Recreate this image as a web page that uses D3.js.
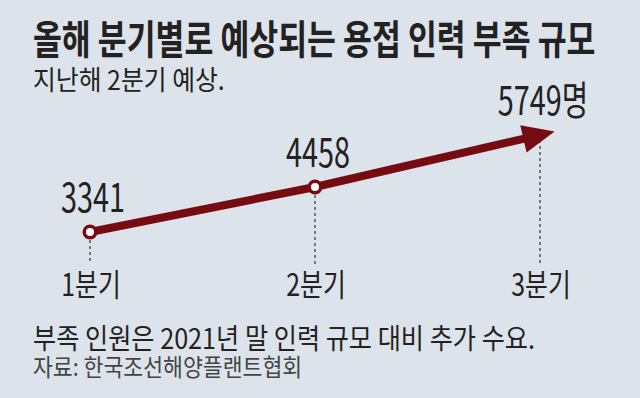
<!DOCTYPE html>
<html>
<head>
<meta charset="utf-8">
<script src="https://cdn.jsdelivr.net/npm/d3@7"></script>
<style>
  html, body { margin: 0; padding: 0; background: #dce3ea; }
  svg { display: block; }
  text { font-family: "Noto Sans CJK KR", "Noto Sans", sans-serif; fill: #222; }
</style>
</head>
<body>
<script>
const quarters = ["1분기", "2분기", "3분기"];
const shortage = [3341, 4458, 5749];
const valueLabels = ["3341", "4458", "5749명"];

const title = "올해 분기별로 예상되는 용접 인력 부족 규모";
const subtitle = "지난해 2분기 예상.";
const note = "부족 인원은 2021년 말 인력 규모 대비 추가 수요.";
const source = "자료: 한국조선해양플랜트협회";

const width = 640, height = 398;
const lineColour = "#760b11";

const svg = d3.select("body").append("svg")
    .attr("width", width)
    .attr("height", height);

svg.append("rect")
    .attr("width", width)
    .attr("height", height)
    .attr("fill", "#dce3ea");

// the original uses a narrow face, so squeeze each text sideways around its anchor
function placeNarrow(sel, px, py, k) {
    sel.attr("transform", (d, i) =>
        "translate(" + (typeof px === "function" ? px(d, i) : px) + "," +
        (typeof py === "function" ? py(d, i) : py) + ") scale(" + k + ",1)");
}

svg.append("text")
    .style("font-size", "40px")
    .style("font-weight", "bold")
    .text(title)
    .call(placeNarrow, 33, 54, 0.785);

svg.append("text")
    .style("font-size", "27px")
    .text(subtitle)
    .call(placeNarrow, 33, 90, 0.92);

const x = d3.scalePoint()
    .domain(quarters)
    .range([90, 540]);

const y = d3.scaleLinear()
    .domain([shortage[0], shortage[2]])
    .range([232, 135]);

const data = quarters.map((q, i) => ({ q, v: shortage[i], label: valueLabels[i] }));

// dashed guides down to the quarter labels
svg.append("g")
    .selectAll("line")
    .data(data)
    .enter()
    .append("line")
    .attr("x1", d => x(d.q))
    .attr("x2", d => x(d.q))
    .attr("y1", (d, i) => y(d.v) + (i === 2 ? 5 : 8))
    .attr("y2", 264)
    .attr("stroke", "#333")
    .attr("stroke-width", 1.2)
    .attr("stroke-dasharray", "3,3");

// line with arrow at the end
const last = data[data.length - 1],
    prev = data[data.length - 2],
    dx = x(last.q) - x(prev.q),
    dy = y(last.v) - y(prev.v),
    dist = Math.sqrt(dx * dx + dy * dy),
    ux = dx / dist,
    uy = dy / dist,
    tip = [x(last.q) + 15 * ux, y(last.v) + 15 * uy],
    base = [tip[0] - 32 * ux, tip[1] - 32 * uy],
    half = 14;

const lineData = data.slice(0, -1).map(d => [x(d.q), y(d.v)])
    .concat([[base[0] + 2 * ux, base[1] + 2 * uy]]);

svg.append("path")
    .attr("fill", "none")
    .attr("stroke", lineColour)
    .attr("stroke-width", 8)
    .attr("d", d3.line()(lineData));

svg.append("path")
    .attr("fill", lineColour)
    .attr("d", "M" + tip[0] + "," + tip[1] +
        "L" + (base[0] + half * uy) + "," + (base[1] - half * ux) +
        "L" + (base[0] - half * uy) + "," + (base[1] + half * ux) + "Z");

// point markers for the first two quarters
const markers = svg.append("g")
    .selectAll("g")
    .data(data.slice(0, -1))
    .enter()
    .append("g")
    .attr("transform", d => "translate(" + x(d.q) + "," + y(d.v) + ")");

markers.append("circle")
    .attr("r", 7.5)
    .attr("fill", lineColour);

markers.append("circle")
    .attr("r", 4)
    .attr("fill", "#fff");

// value labels
svg.append("g")
    .selectAll("text")
    .data(data)
    .enter()
    .append("text")
    .attr("text-anchor", "middle")
    .style("font-size", "40px")
    .text(d => d.label)
    .call(placeNarrow, d => x(d.q) + 3, d => y(d.v) - 20, 0.72);

// quarter labels
svg.append("g")
    .selectAll("text")
    .data(quarters)
    .enter()
    .append("text")
    .attr("text-anchor", "middle")
    .style("font-size", "31px")
    .text(d => d)
    .call(placeNarrow, d => x(d) + 1, 296, 0.8);

svg.append("text")
    .style("font-size", "28px")
    .text(note)
    .call(placeNarrow, 33, 349, 0.9);

svg.append("text")
    .style("font-size", "24px")
    .style("fill", "#444")
    .text(source)
    .call(placeNarrow, 33, 376, 0.9);
</script>
</body>
</html>
